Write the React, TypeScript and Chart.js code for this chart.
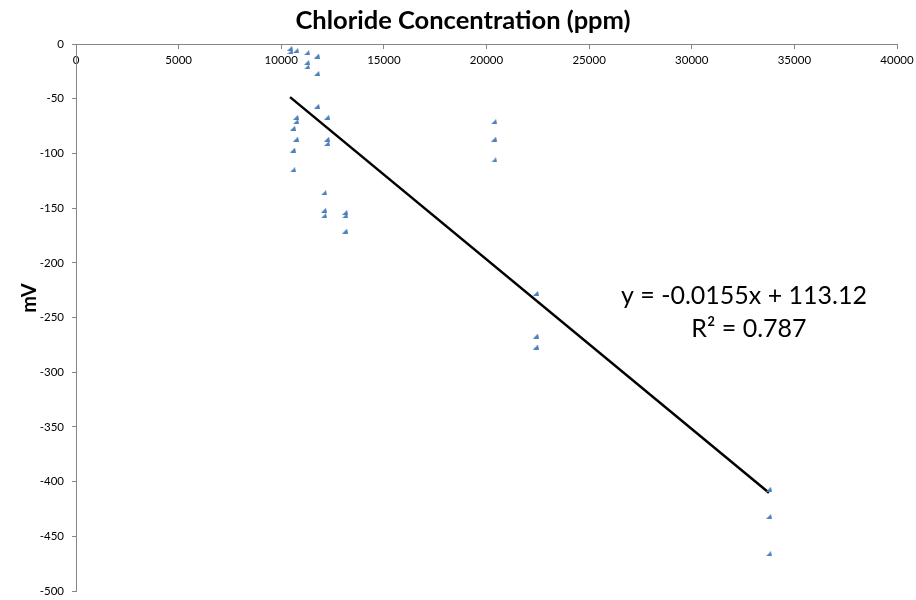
import { useEffect, useRef } from "react";
import { Chart, registerables } from "chart.js";

Chart.register(...registerables);

// Chloride concentration (ppm) against electrode potential (mV)
const chloridePpm = [
  10430, 10450, 10720, 11250, 11740, 11250, 11250, 11740, 11740, 10720, 10720,
  10570, 10720, 10570, 10570, 12230, 12230, 12230, 12080, 12080, 12080, 13110,
  13110, 13110, 20370, 20370, 20370, 22410, 22410, 22410, 33760, 33760, 33760,
];
const millivolts = [
  -4, -7, -6, -8, -11, -17, -21, -27, -57, -67, -71,
  -77, -87, -97, -115, -67, -87, -91, -136, -152, -157, -154,
  -157, -171, -71, -87, -106, -228, -267, -277, -407, -432, -466,
];

// Linear trendline
const slope = -0.0155;
const intercept = 113.12;
const rSquared = "0.787";

// Axis ranges
const xRange = [0, 40000];
const xStep = 5000;
const yRange = [-500, 0];
const yStep = 50;

const axisGrey = "#868686";
const markerBlue = "#4F81BD";

function makeMarker(): HTMLCanvasElement {
  const c = document.createElement("canvas");
  c.width = 6;
  c.height = 5;
  const g = c.getContext("2d")!;
  g.fillStyle = markerBlue;
  g.beginPath();
  g.moveTo(0, 5);
  g.lineTo(6, 5);
  g.lineTo(5, 0);
  g.closePath();
  g.fill();
  return c;
}

// Trendline equation and the rotated value-axis caption
const annotations = {
  id: "annotations",
  afterDatasetsDraw(chart: any) {
    const { ctx, chartArea } = chart;
    const ax = (f: number) => chartArea.left + chartArea.width * f;
    const ay = (f: number) => chartArea.top + chartArea.height * f;
    ctx.save();
    ctx.fillStyle = "#000";
    ctx.textAlign = "center";
    ctx.textBaseline = "middle";
    ctx.font = "25px Lato";
    ctx.fillText(`y = ${slope}x + ${intercept}`, ax(0.8136), ay(0.4607));
    ctx.fillText(`R² = ${rSquared}`, ax(0.8197), ay(0.521));
    ctx.translate(30, ay(0.4644));
    ctx.rotate(-Math.PI / 2);
    ctx.font = "bold 20px Lato";
    ctx.fillText("mV", 0, 0);
    ctx.restore();
  },
};

const plainNumber = (v: string | number) => String(v);

export default function App() {
  const canvasRef = useRef<HTMLCanvasElement | null>(null);

  useEffect(() => {
    if (!canvasRef.current) return;
    const points = chloridePpm.map((x, i) => ({ x, y: millivolts[i] }));
    const xMin = Math.min(...chloridePpm);
    const xMax = Math.max(...chloridePpm);
    const trend = [
      { x: xMin, y: slope * xMin + intercept },
      { x: xMax, y: slope * xMax + intercept },
    ];
    const marker = makeMarker();

    const chart = new Chart(canvasRef.current, {
      type: "scatter",
      data: {
        datasets: [
          {
            label: "mV",
            data: points,
            pointStyle: marker as any,
            pointRadius: 3,
            backgroundColor: markerBlue,
            borderColor: markerBlue,
          },
          {
            label: "Linear",
            data: trend,
            showLine: true,
            pointRadius: 0,
            borderColor: "#000",
            borderWidth: 2.5,
          },
        ],
      },
      options: {
        responsive: false,
        animation: false,
        events: [],
        layout: { padding: { top: 0, right: 19, bottom: 9, left: 29 } },
        plugins: {
          legend: { display: false },
          tooltip: { enabled: false },
          title: {
            display: true,
            text: "Chloride Concentration (ppm)",
            color: "#000",
            font: { family: "Lato", size: 25.5, weight: "bold" },
            padding: { top: 5, bottom: 8.4 },
          },
        },
        scales: {
          x: {
            type: "linear",
            position: { y: 0 } as any,
            min: xRange[0],
            max: xRange[1],
            afterFit: (scale: any) => {
              scale.paddingLeft = 0;
              scale.paddingRight = 0;
            },
            ticks: {
              stepSize: xStep,
              color: "#000",
              font: { family: "Lato", size: 11.5 },
              padding: 5,
              maxRotation: 0,
              callback: plainNumber,
            },
            grid: {
              drawOnChartArea: false,
              tickLength: 4,
              tickColor: axisGrey,
            },
            border: { color: axisGrey, width: 1 },
          },
          y: {
            type: "linear",
            position: "left",
            min: yRange[0],
            max: yRange[1],
            afterFit: (scale: any) => {
              scale.width = 47;
              scale.paddingTop = 0;
              scale.paddingBottom = 0;
            },
            ticks: {
              stepSize: yStep,
              color: "#000",
              font: { family: "Lato", size: 11.5 },
              padding: 8,
              callback: plainNumber,
            },
            grid: {
              drawOnChartArea: false,
              tickLength: 4,
              tickColor: axisGrey,
            },
            border: { color: axisGrey, width: 1 },
          },
        },
      },
      plugins: [annotations],
    });

    return () => chart.destroy();
  }, []);

  return (
    <div style={{ position: "fixed", left: 0, top: 0, width: 916, height: 600, background: "#fff" }}>
      <canvas ref={canvasRef} width={916} height={600} />
    </div>
  );
}
